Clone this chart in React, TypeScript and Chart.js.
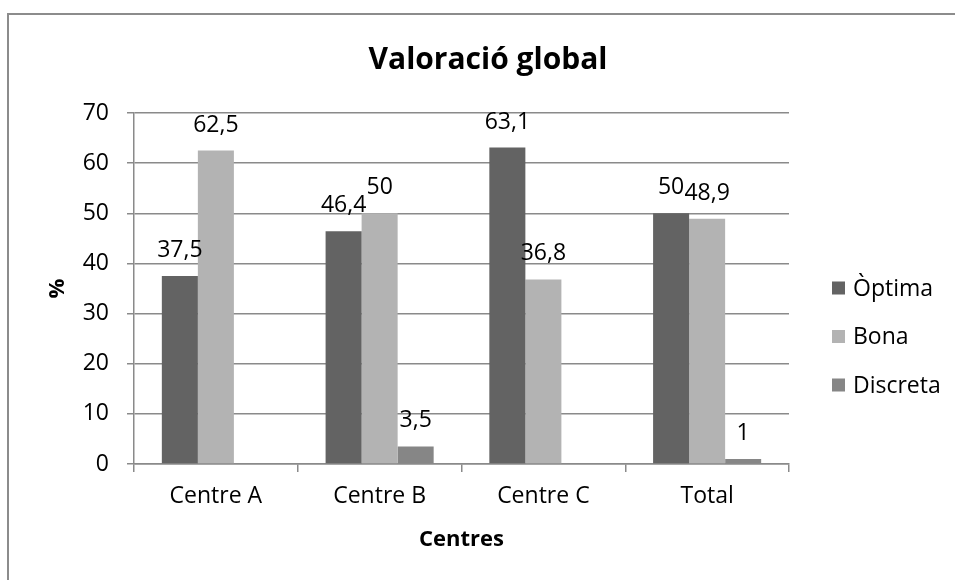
import React, { useEffect, useRef } from "react";
import { Chart, registerables } from "chart.js";

Chart.register(...registerables);

const TITLE = "Valoració global";
const X_TITLE = "Centres";
const Y_TITLE = "%";
const categories = ["Centre A", "Centre B", "Centre C", "Total"];
const seriesNames = ["Òptima", "Bona", "Discreta"];
const optima = [37.5, 46.4, 63.1, 50];
const bona = [62.5, 50, 36.8, 48.9];
const discreta: (number | null)[] = [null, 3.5, null, 1];
const colors = ["#636363", "#b3b3b3", "#868686"];

const FONT = "'Open Sans', sans-serif";
const FS = 23;
const fmt = (v: number) => String(v).replace(".", ",");

const decorPlugin = {
  id: "decor",
  afterDraw(chart: any) {
    const ctx = chart.ctx;
    const area = chart.chartArea;
    ctx.save();
    // outer frame
    ctx.strokeStyle = "#8c8c8c";
    ctx.lineWidth = 2;
    ctx.strokeRect(8, 14, 2000, 2000);

    // title
    ctx.fillStyle = "#000";
    ctx.font = `bold 30px ${FONT}`;
    ctx.textAlign = "center";
    ctx.textBaseline = "alphabetic";
    ctx.fillText(TITLE, 488, 69);

    // axis titles
    ctx.font = `bold 22px ${FONT}`;
    ctx.textBaseline = "middle";
    ctx.fillText(X_TITLE, (area.left + area.right) / 2, 540);
    ctx.save();
    ctx.translate(58, (area.top + area.bottom) / 2);
    ctx.rotate(-Math.PI / 2);
    ctx.fillText(Y_TITLE, 0, 0);
    ctx.restore();

    // data labels
    ctx.font = `${FS}px ${FONT}`;
    ctx.textAlign = "center";
    ctx.textBaseline = "alphabetic";
    chart.data.datasets.forEach((ds: any, di: number) => {
      const meta = chart.getDatasetMeta(di);
      meta.data.forEach((bar: any, i: number) => {
        const v = ds.data[i];
        if (v === null || v === undefined) return;
        ctx.fillText(fmt(v), bar.x, bar.y - 19);
      });
    });

    // legend
    const legendX = 832;
    const legendY0 = 288;
    const legendStep = 48.5;
    ctx.textAlign = "left";
    ctx.textBaseline = "middle";
    chart.data.datasets.forEach((ds: any, di: number) => {
      const cy = legendY0 + di * legendStep;
      ctx.fillStyle = ds.backgroundColor;
      ctx.fillRect(legendX, cy - 6.5, 13, 13);
      ctx.fillStyle = "#000";
      ctx.fillText(ds.label, legendX + 21, cy + 1);
    });
    ctx.restore();
  },
};

export default function App() {
  const ref = useRef<HTMLCanvasElement>(null);
  useEffect(() => {
    if (!ref.current) return;
    const gridColor = "#8a8a8a";
    const chart = new Chart(ref.current, {
      type: "bar",
      data: {
        labels: categories,
        datasets: [
          { label: seriesNames[0], data: optima, backgroundColor: colors[0] },
          { label: seriesNames[1], data: bona, backgroundColor: colors[1] },
          { label: seriesNames[2], data: discreta, backgroundColor: colors[2] },
        ],
      },
      options: {
        responsive: false,
        animation: false,
        layout: { padding: { top: 113, right: 166, left: 0, bottom: 0 } },
        datasets: { bar: { categoryPercentage: 0.66, barPercentage: 1 } },
        plugins: {
          legend: { display: false },
          title: { display: false },
          tooltip: { enabled: false },
        },
        scales: {
          x: {
            afterFit: (s: any) => {
              s.height = 116;
            },
            grid: {
              offset: true,
              drawOnChartArea: false,
              drawTicks: true,
              tickLength: 8,
              color: gridColor,
              lineWidth: 1.5,
            },
            border: { color: gridColor, width: 1.5 },
            ticks: {
              color: "#000",
              font: { family: FONT, size: FS },
              padding: 11,
              maxRotation: 0,
            },
          },
          y: {
            min: 0,
            max: 70,
            afterFit: (s: any) => {
              s.width = 134;
            },
            grid: {
              color: gridColor,
              lineWidth: 1.5,
              drawTicks: true,
              tickLength: 7,
            },
            border: { color: gridColor, width: 1.5 },
            ticks: {
              stepSize: 10,
              color: "#000",
              font: { family: FONT, size: FS },
              padding: 18,
            },
          },
        },
      },
      plugins: [decorPlugin],
    });
    return () => chart.destroy();
  }, []);
  return (
    <div style={{ position: "absolute", left: 0, top: 0, width: 955, height: 580, background: "#fff" }}>
      <canvas ref={ref} width={955} height={580} style={{ display: "block" }} />
    </div>
  );
}
